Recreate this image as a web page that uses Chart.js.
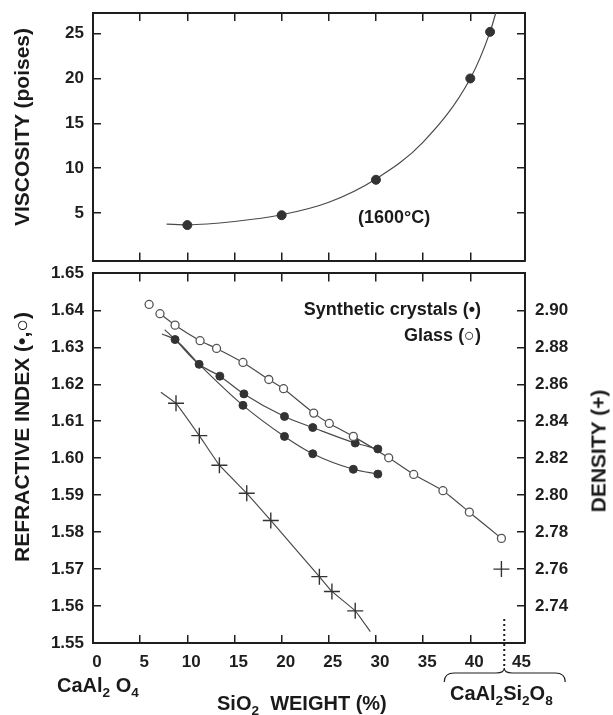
<!DOCTYPE html>
<html>
<head>
<meta charset="utf-8">
<script src="https://cdn.jsdelivr.net/npm/chart.js@4.4.1/dist/chart.umd.min.js"></script>
<style>
  body { margin: 0; background: #fff; }
  #wrap { position: relative; width: 613px; height: 715px; overflow: hidden;
          font-family: "Liberation Sans", Arial, sans-serif; font-weight: bold; color: #1a1a1a; }
  canvas { position: absolute; left: 0; }
  .t { position: absolute; white-space: nowrap; line-height: 1; }
  .rot { transform: translate(-50%, -50%) rotate(-90deg); }
  .sub { font-size: 68%; position: relative; top: 0.35em; }
</style>
</head>
<body>
<div id="wrap">
  <canvas id="viscosity-chart" width="613" height="266" style="top:0"></canvas>
  <canvas id="index-chart" width="613" height="451" style="top:264px"></canvas>

  <div class="t rot" style="left:21px;top:127px;font-size:21px">VISCOSITY (poises)</div>
  <div class="t rot" style="left:21px;top:437px;font-size:21px">REFRACTIVE INDEX (•,○)</div>
  <div class="t rot" style="left:598px;top:451px;font-size:21px">DENSITY (+)</div>

  <div class="t" style="right:132px;top:300px;font-size:18px">Synthetic crystals (•)</div>
  <div class="t" style="right:132px;top:326px;font-size:18px">Glass (○)</div>
  <div class="t" style="left:358px;top:208px;font-size:18px">(1600°C)</div>

  <div class="t" style="left:57px;top:675px;font-size:20px">CaAl<span class="sub">2</span> O<span class="sub">4</span></div>
  <div class="t" style="left:217px;top:693px;font-size:20px">SiO<span class="sub">2</span>&nbsp; WEIGHT (%)</div>
  <div class="t" style="left:450px;top:683px;font-size:20px">CaAl<span class="sub">2</span>Si<span class="sub">2</span>O<span class="sub">8</span></div>
</div>

<script>
// Axis ticks
const sio2Ticks = [0, 5, 10, 15, 20, 25, 30, 35, 40, 45];
const viscosityTicks = [5, 10, 15, 20, 25];
const refractiveTicks = [1.55, 1.56, 1.57, 1.58, 1.59, 1.60, 1.61, 1.62, 1.63, 1.64, 1.65];
const densityTicks = [2.74, 2.76, 2.78, 2.80, 2.82, 2.84, 2.86, 2.88, 2.90];

// Viscosity at 1600 C (poises)
const viscosityX = [10, 20, 30, 40, 42.1];
const viscosityVal = [3.65, 4.75, 8.7, 20.0, 25.2];
// hand drawn curve through the viscosity points
const viscosityCurveX = [7.8, 10, 15, 20, 25, 30, 35, 40, 42.1, 42.7];
const viscosityCurveVal = [3.75, 3.68, 4.05, 4.8, 6.2, 8.8, 12.9, 20.0, 25.2, 27.3];

// Glass (open circles)
const glassX = [5.95, 7.1, 8.7, 11.35, 13.1, 15.9, 18.64, 20.2, 23.4, 25.05, 27.6, 31.35, 34.0, 37.1, 39.9, 43.3];
const glassRI = [1.6416, 1.6391, 1.6360, 1.6318, 1.6297, 1.6259, 1.6213, 1.6188, 1.6122, 1.6094, 1.6059, 1.6001, 1.5956, 1.5912, 1.5854, 1.5783];

// Synthetic crystals (filled circles): two branches sharing the first two points
const crystalSharedX = [8.7, 11.25];
const crystalSharedRI = [1.6321, 1.6254];
const crystalUpperX = [13.45, 16.0, 20.3, 23.3, 27.8, 30.2];
const crystalUpperRI = [1.6222, 1.6174, 1.6113, 1.6083, 1.6041, 1.6025];
const crystalLowerX = [15.9, 20.3, 23.3, 27.6, 30.2];
const crystalLowerRI = [1.6143, 1.6059, 1.6012, 1.5970, 1.5957];
// where the two crystal curves begin (left of the first point)
const crystalStartX = [7.6, 7.3];
const crystalStartRI = [1.6348, 1.6336];

// Density (+), right axis
const densityX = [8.8, 11.27, 13.4, 16.3, 18.85, 24.0, 25.33, 27.8, 43.3];
const densityVal = [2.8497, 2.8322, 2.8162, 2.801, 2.7863, 2.7559, 2.7479, 2.7374, 2.760];
// ends of the density line
const densityLineEndX = [7.2, 29.4];
const densityLineEndVal = [2.8557, 2.7262];

// CaAl2Si2O8 composition marker
const anorthiteX = 43.6;
const anorthiteMarkFrom = 1.5565;

const ink = '#1e1e1e';
const lineInk = '#4a4a4a';
const tickFont = { family: '"Liberation Sans", Arial, sans-serif', size: 17, weight: 'bold' };

function toPoints(xs, ys) {
    return xs.map((x, i) => ({ x: x, y: ys[i] }));
}

function setTicks(list) {
    return (scale) => { scale.ticks = list.map(v => ({ value: v })); };
}

// inward tick marks, optionally hiding the first and last one
function tickGrid(skipEnds) {
    return {
        drawOnChartArea: false,
        drawTicks: true,
        tickLength: -8,
        lineWidth: 1.5,
        color: (ctx) => {
            if (!skipEnds) return ink;
            const n = ctx.scale.ticks.length;
            return (ctx.index > 0 && ctx.index < n - 1) ? ink : 'rgba(0,0,0,0)';
        }
    };
}

function axis(position, min, max, list, opts) {
    return {
        type: 'linear',
        position: position,
        min: min,
        max: max,
        afterBuildTicks: setTicks(list),
        afterFit: (scale) => {
            if (position === 'left' || position === 'right') scale.width = opts.size;
            else scale.height = opts.size;
            // fixed plot box: no extra room for end labels
            scale.paddingTop = 0;
            scale.paddingBottom = 0;
            scale.paddingLeft = 0;
            scale.paddingRight = 0;
        },
        border: { display: true, width: 2, color: ink },
        grid: tickGrid(opts.skipEnds),
        ticks: {
            display: !!opts.labels,
            font: tickFont,
            color: ink,
            padding: opts.padding || 0,
            labelOffset: opts.labelOffset || 0,
            autoSkip: false,
            maxRotation: 0,
            callback: opts.format || ((v) => v)
        }
    };
}

// Dotted line and brace at the CaAl2Si2O8 end
const anorthitePlugin = {
    id: 'anorthite',
    afterDraw(chart) {
        const { ctx, scales, chartArea } = chart;
        const px = scales.x.getPixelForValue(anorthiteX);
        const yTop = scales.y.getPixelForValue(anorthiteMarkFrom);
        const tipY = chartArea.bottom + 25;
        ctx.save();
        ctx.strokeStyle = ink;
        ctx.lineWidth = 2;
        ctx.setLineDash([2, 3]);
        ctx.beginPath();
        ctx.moveTo(px, yTop);
        ctx.lineTo(px, tipY);
        ctx.stroke();
        ctx.setLineDash([]);
        ctx.lineWidth = 1.2;
        ctx.beginPath();
        ctx.moveTo(px - 60, tipY + 14);
        ctx.quadraticCurveTo(px - 60, tipY + 5, px - 50, tipY + 5);
        ctx.lineTo(px - 8, tipY + 5);
        ctx.quadraticCurveTo(px, tipY + 5, px, tipY);
        ctx.quadraticCurveTo(px, tipY + 5, px + 8, tipY + 5);
        ctx.lineTo(px + 51, tipY + 5);
        ctx.quadraticCurveTo(px + 61, tipY + 5, px + 61, tipY + 14);
        ctx.stroke();
        ctx.restore();
    }
};

const baseOptions = {
    responsive: false,
    animation: false,
    layout: { padding: 0 },
    plugins: { legend: { display: false }, tooltip: { enabled: false } },
    elements: { line: { borderWidth: 1.2, borderColor: lineInk } }
};

// Top chart: viscosity
new Chart(document.getElementById('viscosity-chart').getContext('2d'), {
    type: 'scatter',
    data: {
        datasets: [
            {
                data: toPoints(viscosityX, viscosityVal),
                pointRadius: 4.5,
                backgroundColor: '#333',
                borderColor: '#333',
                borderWidth: 1
            },
            {
                data: toPoints(viscosityCurveX, viscosityCurveVal),
                showLine: true,
                pointRadius: 0,
                borderColor: lineInk,
                borderWidth: 1.2,
                cubicInterpolationMode: 'monotone'
            }
        ]
    },
    options: Object.assign({}, baseOptions, {
        scales: {
            x: axis('bottom', 0, 45.8, sio2Ticks, { size: 5, skipEnds: true }),
            x2: axis('top', 0, 45.8, sio2Ticks, { size: 13, skipEnds: true }),
            y: axis('left', -0.3, 27.3, viscosityTicks, { size: 93, labels: true, padding: 17 }),
            y2: axis('right', -0.3, 27.3, viscosityTicks, { size: 88 })
        }
    })
});

// Bottom chart: refractive index and density
const glassPts = toPoints(glassX, glassRI);
const upperLine = toPoints([crystalStartX[0]].concat(crystalSharedX, crystalUpperX),
                           [crystalStartRI[0]].concat(crystalSharedRI, crystalUpperRI));
const lowerLine = toPoints([crystalStartX[1]].concat(crystalSharedX, crystalLowerX),
                           [crystalStartRI[1]].concat(crystalSharedRI, crystalLowerRI));
const densityLine = toPoints([densityLineEndX[0]].concat(densityX.slice(0, 8), [densityLineEndX[1]]),
                             [densityLineEndVal[0]].concat(densityVal.slice(0, 8), [densityLineEndVal[1]]));

new Chart(document.getElementById('index-chart').getContext('2d'), {
    type: 'scatter',
    data: {
        datasets: [
            {
                data: glassPts,
                pointRadius: 4,
                backgroundColor: '#fff',
                borderColor: '#555',
                borderWidth: 1.3
            },
            {
                data: toPoints(crystalSharedX.concat(crystalUpperX, crystalLowerX),
                               crystalSharedRI.concat(crystalUpperRI, crystalLowerRI)),
                pointRadius: 4,
                backgroundColor: '#333',
                borderColor: '#333',
                borderWidth: 1
            },
            {
                data: toPoints(densityX, densityVal),
                yAxisID: 'y2',
                pointStyle: 'cross',
                pointRadius: 8,
                borderColor: '#333',
                borderWidth: 1.4
            },
            {
                data: glassPts.slice(1),
                showLine: true,
                pointRadius: 0,
                borderColor: lineInk,
                borderWidth: 1.2,
                tension: 0.2
            },
            {
                data: upperLine,
                showLine: true,
                pointRadius: 0,
                borderColor: lineInk,
                borderWidth: 1.2,
                cubicInterpolationMode: 'monotone'
            },
            {
                data: lowerLine,
                showLine: true,
                pointRadius: 0,
                borderColor: lineInk,
                borderWidth: 1.2,
                cubicInterpolationMode: 'monotone'
            },
            {
                data: densityLine,
                yAxisID: 'y2',
                showLine: true,
                pointRadius: 0,
                borderColor: lineInk,
                borderWidth: 1.2,
                tension: 0.1
            }
        ]
    },
    options: Object.assign({}, baseOptions, {
        scales: {
            x: axis('bottom', 0, 45.8, sio2Ticks, { size: 72, skipEnds: true, labels: true, padding: 17, labelOffset: 4 }),
            x2: axis('top', 0, 45.8, sio2Ticks, { size: 5, skipEnds: true }),
            y: axis('left', 1.55, 1.65, refractiveTicks, { size: 93, skipEnds: true, labels: true, padding: 17,
                format: (v) => v.toFixed(2) }),
            y2: axis('right', 2.72, 2.92, densityTicks, { size: 88, labels: true, padding: 18,
                format: (v) => v.toFixed(2) })
        }
    }),
    plugins: [anorthitePlugin]
});
</script>
</body>
</html>
